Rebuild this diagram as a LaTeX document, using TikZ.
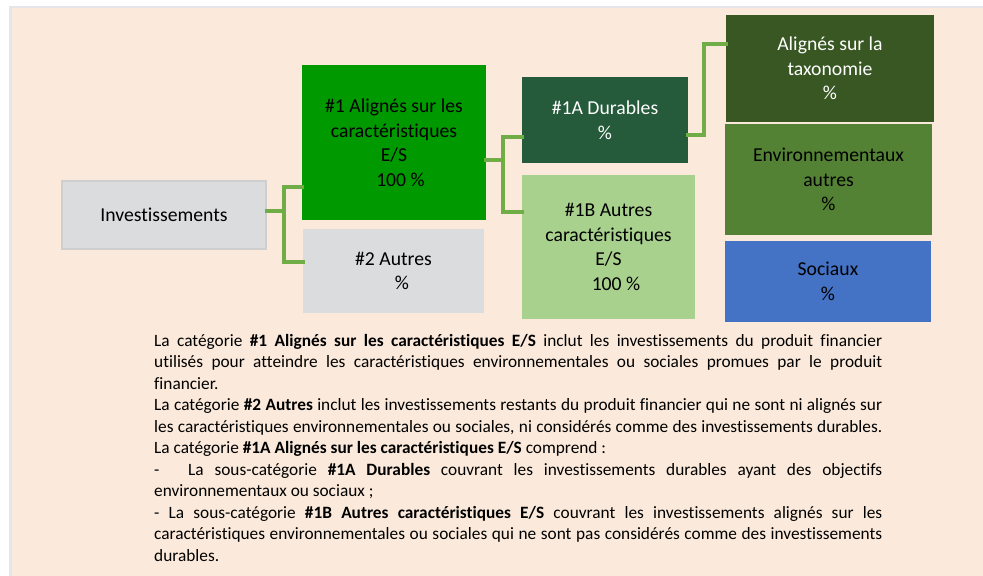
\documentclass[tikz,border=0pt]{standalone}
\usepackage{fontspec}
\setmainfont[Ligatures=NoCommon]{Carlito}
\usetikzlibrary{calc}

\definecolor{pagebg}{HTML}{FBEADB}
\definecolor{framegray}{HTML}{E6E6EA}
\definecolor{invfill}{HTML}{DBDCDE}
\definecolor{invline}{HTML}{CFCECE}
\definecolor{vert1}{HTML}{009900}
\definecolor{vert1a}{HTML}{255A3A}
\definecolor{vert1b}{HTML}{A9D18E}
\definecolor{vertdark}{HTML}{385723}
\definecolor{vertmid}{HTML}{548235}
\definecolor{bleu}{HTML}{4472C4}
\definecolor{gris2}{HTML}{DBDCDE}
\definecolor{lien}{HTML}{70AD47}

\newcommand\boxfont{\fontsize{19.7bp}{24.5bp}\selectfont}
\newcommand\bodyfont{\fontsize{17.3bp}{21.5bp}\selectfont}
\newcommand\jline[1]{\hbox to 728bp{#1}}

\tikzset{
  catbox/.style={rectangle, inner sep=0pt, align=center, font=\boxfont, text=black},
  conn/.style={draw=lien, line width=3.5bp, line join=miter, line cap=rect},
}

\begin{document}
\begin{tikzpicture}[x=1bp, y=-1bp]
  \useasboundingbox (0,0) rectangle (983,576);
  % page and frame
  \fill[white] (0,0) rectangle (983,576);
  \fill[framegray] (9,6) rectangle (983,576);
  \fill[pagebg] (11.5,8.5) rectangle (983,576);

  % category boxes
  \node[catbox, fill=invfill, draw=invline, line width=2.5bp,
        minimum width=203.5bp, minimum height=67.5bp] (inv) at (164,215) {Investissements};
  \node[catbox, fill=vert1, minimum width=184bp, minimum height=155bp] (n1) at (394,142.5)
    {\#1 Alignés sur les\\caractéristiques\\E/S\\\hspace*{13bp}100 \%};
  \node[catbox, fill=gris2, minimum width=181bp, minimum height=84bp] (n2) at (393.5,271)
    {\#2 Autres\\\hspace*{17bp}\%};
  \node[catbox, fill=vert1a, text=white, minimum width=166bp, minimum height=86bp] (n1a) at (605,120)
    {\#1A Durables\\\%};
  \node[catbox, fill=vert1b, minimum width=173bp, minimum height=144bp] (n1b) at (608.5,247)
    {\#1B Autres\\caractéristiques\\E/S\\\hspace*{15bp}100 \%};
  \node[catbox, fill=vertdark, text=white, minimum width=208bp, minimum height=107bp] (tax) at (830,68.5)
    {Alignés sur la\\taxonomie\\\%};
  \node[catbox, fill=vertmid, minimum width=207bp, minimum height=111bp] (env) at (828.5,179.5)
    {Environnementaux\\autres\\\%};
  \node[catbox, fill=bleu, minimum width=206bp, minimum height=81bp] (soc) at (828,281.5)
    {Sociaux\\\%};

  % tree connectors
  \coordinate (j1) at (284,211);
  \coordinate (j2) at (503,160);
  \coordinate (j3) at (704,135);
  \draw[conn] (inv.east |- j1) -- (j1);
  \draw[conn] (n1.west |- 0,187) -| (j1) |- (n2.west |- 0,262);
  \draw[conn] (n1.east |- j2) -- (j2);
  \draw[conn] (n1a.west |- 0,137) -| (j2) |- (n1b.west |- 0,212);
  \draw[conn] (n1a.east |- j3) -- (j3) |- (tax.west |- 0,44);

  % explanatory text
  \node[anchor=base west, inner sep=0pt, text=black] (texte) at (154,561) {\vbox{\bodyfont
    \baselineskip=21.5bp\relax
    \jline{La catégorie \textbf{\#1 Alignés sur les caractéristiques E/S} inclut les investissements du produit financier}
    \jline{utilisés pour atteindre les caractéristiques environnementales ou sociales promues par le produit}
    \hbox{financier.}
    \jline{La catégorie \textbf{\#2 Autres} inclut les investissements restants du produit financier qui ne sont ni alignés sur}
    \jline{les caractéristiques environnementales ou sociales, ni considérés comme des investissements durables.}
    \hbox{La catégorie \textbf{\#1A Alignés sur les caractéristiques E/S} comprend :}
    \jline{\makebox[34bp][l]{-}La sous-catégorie \textbf{\#1A Durables} couvrant les investissements durables ayant des objectifs}
    \hbox{environnementaux ou sociaux ;}
    \jline{- La sous-catégorie \textbf{\#1B Autres caractéristiques E/S} couvrant les investissements alignés sur les}
    \jline{caractéristiques environnementales ou sociales qui ne sont pas considérés comme des investissements}
    \hbox{durables.}
  }};
\end{tikzpicture}
\end{document}
